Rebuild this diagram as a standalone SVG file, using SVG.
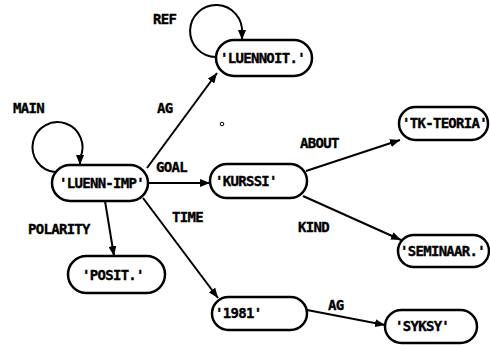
<svg xmlns="http://www.w3.org/2000/svg" width="490" height="345" viewBox="0 0 490 345">
<style>
.node rect{fill:#fff;stroke:#000;stroke-width:2.5}
text{font-family:"DejaVu Sans Mono","Liberation Mono",monospace;font-weight:bold;font-size:14px;letter-spacing:-0.7px;fill:#000;stroke:#000;stroke-width:0.35}
.edge{fill:none;stroke:#000;stroke-width:2;marker-end:url(#arr)}
</style>
<defs>
<marker id="arr" markerUnits="userSpaceOnUse" markerWidth="10" markerHeight="8" refX="10" refY="4" orient="auto">
<path d="M0,0 L10,4 L0,8 z" fill="#000"/>
</marker>
</defs>
<g id="connectors">
<path class="edge" d="M55 172 A25 25 0 1 1 80 158 L80 165"/>
<path class="edge" d="M216 57 A26 26 0 1 1 242 33 L242 40"/>
<path class="edge" d="M147 168 L217 73"/>
<path class="edge" d="M148 183 L210 183"/>
<path class="edge" d="M105 201 L114 256"/>
<path class="edge" d="M143 198 L218 298"/>
<path class="edge" d="M306 171 L400 140"/>
<path class="edge" d="M303 196 L401 240"/>
<path class="edge" d="M307 310 L385 325"/>
</g>
<g id="labels">
<text x="153" y="24">REF</text>
<text x="13" y="113">MAIN</text>
<text x="157" y="113">AG</text>
<text x="156" y="172">GOAL</text>
<text x="172" y="222">TIME</text>
<text x="28" y="234">POLARITY</text>
<text x="300" y="148">ABOUT</text>
<text x="298" y="232">KIND</text>
<text x="328" y="310">AG</text>
</g>
<g id="n-luennoit" class="node"><rect x="216" y="40" width="96" height="36" rx="18"/><text x="220" y="63">'LUENNOIT.'</text></g>
<g id="n-tkteoria" class="node"><rect x="399" y="107" width="89" height="33" rx="16.5"/><text x="402" y="128">'TK-TEORIA'</text></g>
<g id="n-luennimp" class="node"><rect x="52" y="165" width="96" height="36" rx="18"/><text x="59" y="188">'LUENN-IMP'</text></g>
<g id="n-kurssi" class="node"><rect x="210" y="164" width="97" height="34" rx="17"/><text x="215" y="186">'KURSSI'</text></g>
<g id="n-seminaar" class="node"><rect x="398" y="235" width="91" height="32" rx="16"/><text x="400" y="256">'SEMINAAR.'</text></g>
<g id="n-posit" class="node"><rect x="68" y="256" width="97" height="37" rx="18.5"/><text x="82" y="280">'POSIT.'</text></g>
<g id="n-1981" class="node"><rect x="212" y="297" width="95" height="33" rx="16.5"/><text x="215" y="318">'1981'</text></g>
<g id="n-syksy" class="node"><rect x="385" y="310" width="92" height="33" rx="16.5"/><text x="395" y="331">'SYKSY'</text></g>
<circle cx="222" cy="124" r="1.8" fill="none" stroke="#000" stroke-width="1"/>
</svg>
